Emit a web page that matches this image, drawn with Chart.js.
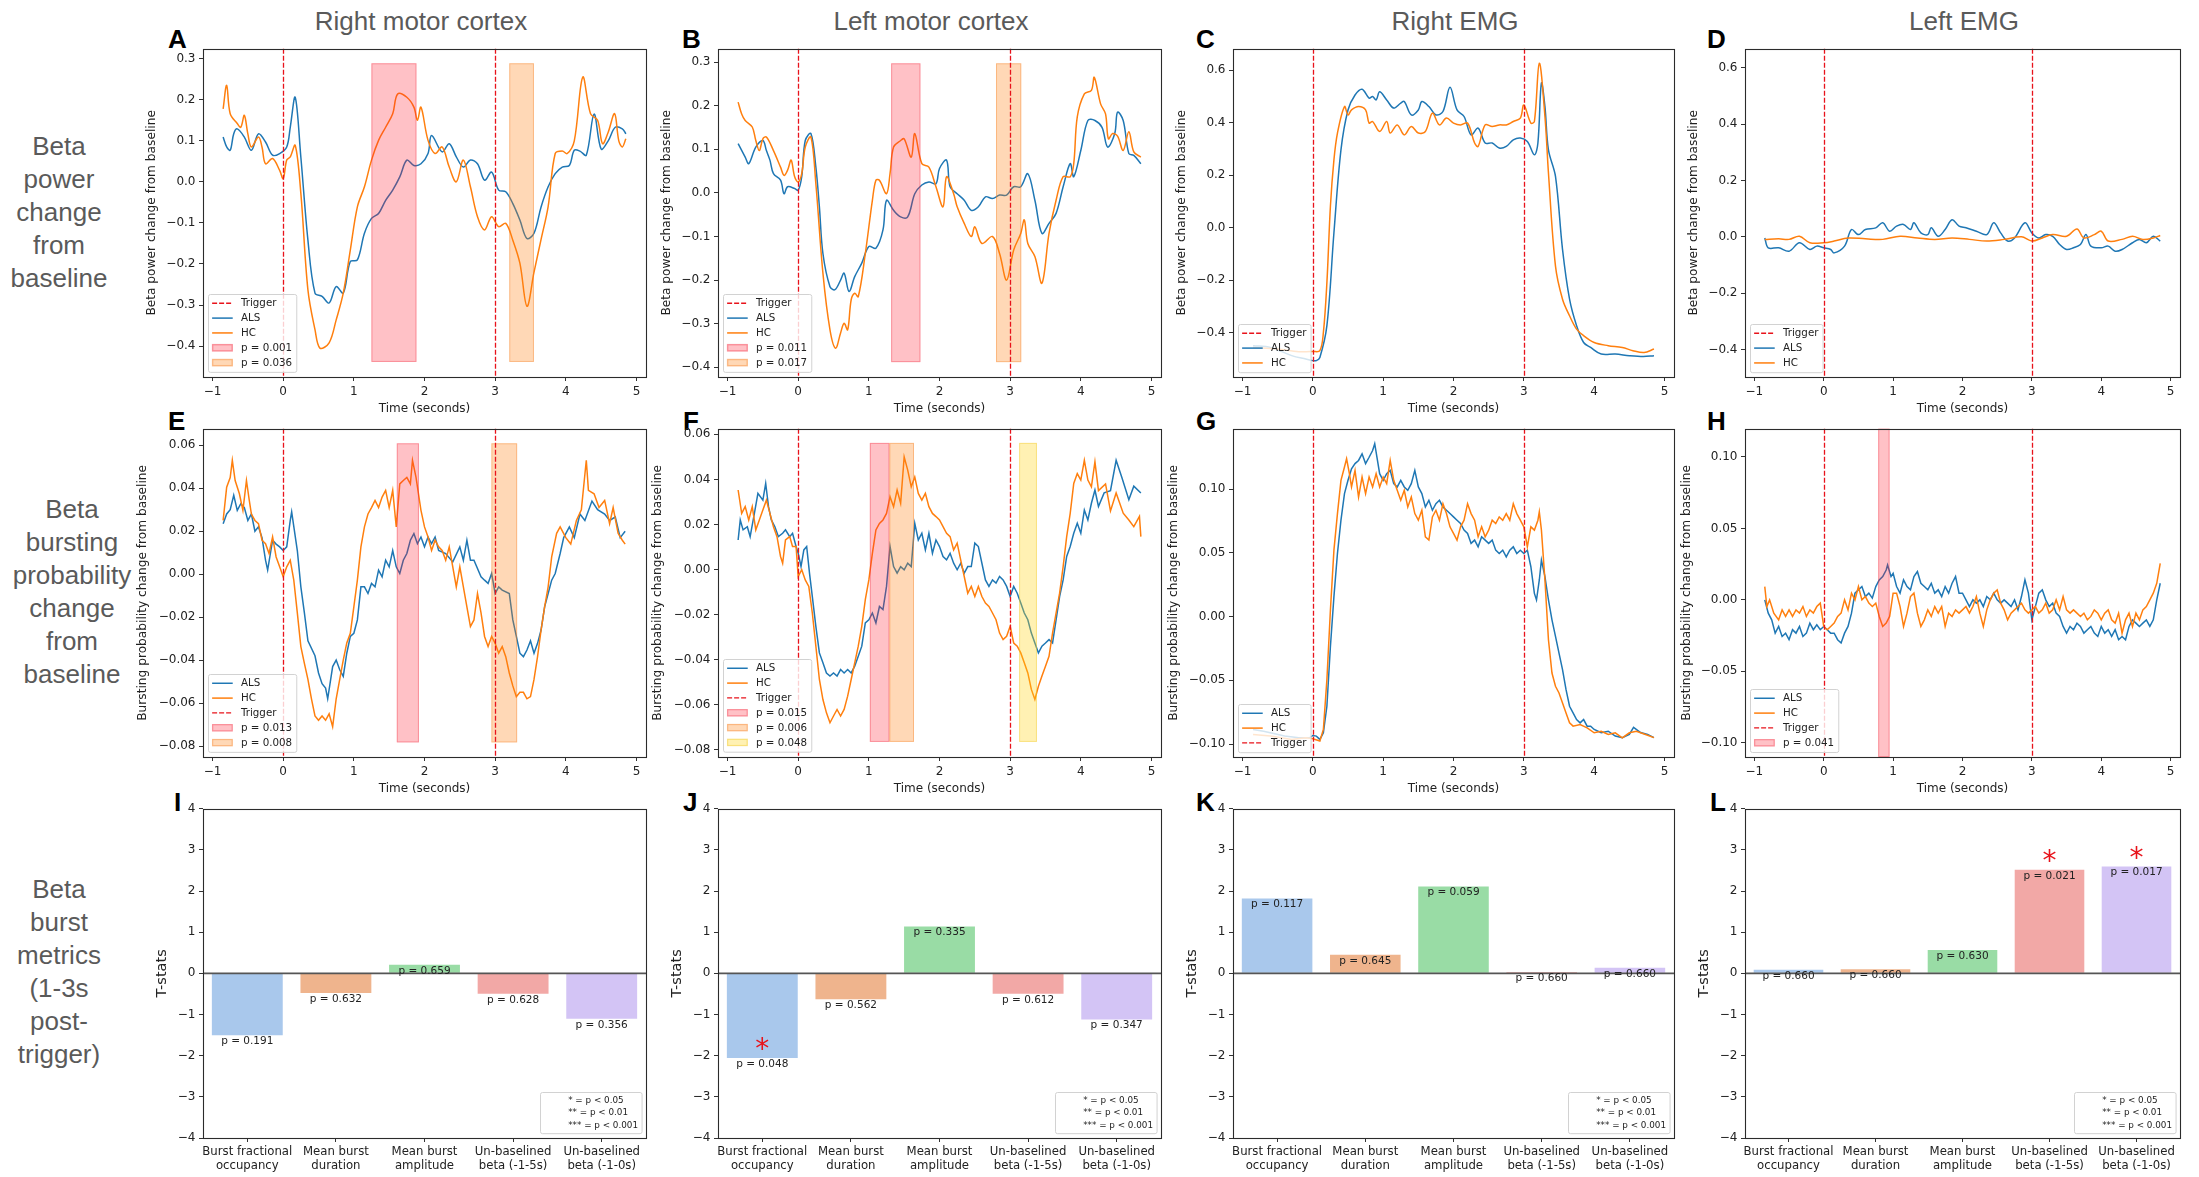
<!DOCTYPE html>
<html>
<head>
<meta charset="utf-8">
<script src="https://cdn.jsdelivr.net/npm/chart.js@4.4.0/dist/chart.umd.min.js"></script>
<style>
  body { margin: 0; width: 2199px; height: 1177px; background: #fff; position: relative; overflow: hidden; font-family: 'Liberation Sans', Arial, sans-serif; }
  .panel { position: absolute; }
  .coltitle { position: absolute; width: 400px; text-align: center; color: #5a5a5a; font-size: 26px; line-height: 33px; }
  .rowtitle { position: absolute; width: 170px; text-align: center; color: #5a5a5a; font-size: 26px; line-height: 33px; }
  .letter { position: absolute; font-weight: bold; font-size: 26px; line-height: 26px; color: #000; }
</style>
</head>
<body>
<div class="coltitle" style="left:221px;top:4.5px">Right motor cortex</div>
<div class="coltitle" style="left:731px;top:4.5px">Left motor cortex</div>
<div class="coltitle" style="left:1255px;top:4.5px">Right EMG</div>
<div class="coltitle" style="left:1764px;top:4.5px">Left EMG</div>

<div class="rowtitle" style="left:-26px;top:129.6px">Beta<br>power<br>change<br>from<br>baseline</div>
<div class="rowtitle" style="left:-13px;top:493px">Beta<br>bursting<br>probability<br>change<br>from<br>baseline</div>
<div class="rowtitle" style="left:-26px;top:872.8px">Beta<br>burst<br>metrics<br>(1-3s<br>post-<br>trigger)</div>

<div class="letter" style="left:168px;top:26.3px">A</div>
<div class="letter" style="left:682px;top:26.3px">B</div>
<div class="letter" style="left:1196px;top:26.3px">C</div>
<div class="letter" style="left:1707px;top:26.3px">D</div>
<div class="letter" style="left:168px;top:408px">E</div>
<div class="letter" style="left:683px;top:408px">F</div>
<div class="letter" style="left:1196px;top:408px">G</div>
<div class="letter" style="left:1707px;top:408px">H</div>
<div class="letter" style="left:174px;top:788.7px">I</div>
<div class="letter" style="left:683px;top:788.7px">J</div>
<div class="letter" style="left:1196px;top:788.7px">K</div>
<div class="letter" style="left:1710px;top:788.7px">L</div>

<script>
// ---------- data ----------
const timeTicks = [-1, 0, 1, 2, 3, 4, 5];
const triggerTimes = [0, 3];
const powerTicksCortex = [-0.4, -0.3, -0.2, -0.1, 0, 0.1, 0.2, 0.3];
const powerTicksEmg = [-0.4, -0.2, 0, 0.2, 0.4, 0.6];
const burstTicksCortex = [-0.08, -0.06, -0.04, -0.02, 0, 0.02, 0.04, 0.06];
const burstTicksEmg = [-0.10, -0.05, 0, 0.05, 0.10];
const tstatTicks = [-4, -3, -2, -1, 0, 1, 2, 3, 4];

// A - right motor cortex, beta power (time, value)
const rightPowerALS = [[-0.85,0.109],[-0.8,0.085],[-0.75,0.077],[-0.7,0.117],[-0.65,0.129],[-0.55,0.109],[-0.45,0.077],[-0.35,0.117],[-0.25,0.097],[-0.15,0.065],[-0.05,0.069],[0.05,0.085],[0.1,0.133],[0.17,0.206],[0.25,0.06],[0.35,-0.142],[0.45,-0.271],[0.55,-0.279],[0.65,-0.295],[0.75,-0.255],[0.85,-0.271],[0.95,-0.194],[1.05,-0.19],[1.15,-0.125],[1.25,-0.089],[1.35,-0.077],[1.45,-0.045],[1.55,-0.02],[1.65,0.012],[1.75,0.053],[1.85,0.04],[1.95,0.044],[2.05,0.069],[2.1,0.113],[2.25,0.073],[2.35,0.093],[2.45,0.061],[2.55,0.036],[2.65,0.053],[2.75,0.044],[2.85,0.004],[2.95,0.024],[3.05,-0.02],[3.15,-0.024],[3.25,-0.053],[3.35,-0.093],[3.45,-0.138],[3.55,-0.125],[3.65,-0.061],[3.75,-0.012],[3.85,0.02],[3.95,0.036],[4.05,0.04],[4.12,0.077],[4.2,0.075],[4.29,0.065],[4.4,0.165],[4.5,0.08],[4.6,0.1],[4.7,0.133],[4.8,0.129],[4.85,0.117]];
const rightPowerHC = [[-0.85,0.178],[-0.8,0.235],[-0.75,0.166],[-0.65,0.142],[-0.6,0.133],[-0.55,0.162],[-0.5,0.117],[-0.45,0.085],[-0.35,0.109],[-0.3,0.085],[-0.25,0.044],[-0.15,0.057],[-0.05,0.028],[0,0.008],[0.05,0.053],[0.1,0.061],[0.17,0.089],[0.25,-0.028],[0.35,-0.263],[0.45,-0.36],[0.52,-0.405],[0.65,-0.392],[0.75,-0.336],[0.85,-0.271],[0.95,-0.166],[1.05,-0.061],[1.15,-0.012],[1.25,0.053],[1.35,0.101],[1.45,0.133],[1.55,0.166],[1.62,0.214],[1.75,0.206],[1.85,0.182],[1.9,0.15],[1.95,0.182],[2.05,0.101],[2.15,0.069],[2.25,0.085],[2.35,0.036],[2.45,0.0],[2.55,0.053],[2.65,-0.012],[2.75,-0.085],[2.85,-0.117],[2.95,-0.085],[3.05,-0.109],[3.15,-0.101],[3.25,-0.142],[3.35,-0.198],[3.45,-0.303],[3.55,-0.22],[3.65,-0.14],[3.75,-0.06],[3.85,0.069],[3.95,0.075],[4.02,0.069],[4.12,0.1],[4.24,0.255],[4.35,0.166],[4.45,0.15],[4.52,0.093],[4.6,0.121],[4.69,0.166],[4.75,0.1],[4.8,0.085],[4.85,0.105]];

// B - left motor cortex, beta power
const leftPowerALS = [[-0.85,0.113],[-0.75,0.082],[-0.7,0.067],[-0.6,0.105],[-0.5,0.12],[-0.45,0.097],[-0.4,0.075],[-0.35,0.044],[-0.25,0.029],[-0.2,-0.002],[-0.15,0.014],[-0.05,0.01],[0,0.006],[0.05,0.037],[0.1,0.12],[0.18,0.136],[0.25,0.059],[0.3,-0.032],[0.35,-0.139],[0.45,-0.215],[0.52,-0.222],[0.6,-0.2],[0.65,-0.184],[0.72,-0.226],[0.8,-0.192],[0.9,-0.161],[1.0,-0.123],[1.1,-0.127],[1.2,-0.085],[1.25,-0.017],[1.35,-0.04],[1.45,-0.055],[1.55,-0.055],[1.65,-0.002],[1.75,0.018],[1.85,0.025],[1.95,0.021],[2.0,0.056],[2.1,0.075],[2.15,0.014],[2.25,-0.002],[2.35,-0.017],[2.45,-0.04],[2.55,-0.032],[2.65,-0.009],[2.75,-0.013],[2.85,-0.005],[2.95,-0.005],[3.05,0.014],[3.15,0.014],[3.25,0.044],[3.35,-0.017],[3.45,-0.093],[3.55,-0.07],[3.65,-0.047],[3.75,0.014],[3.85,0.067],[3.9,0.037],[4.0,0.097],[4.1,0.166],[4.2,0.166],[4.3,0.15],[4.38,0.105],[4.48,0.136],[4.52,0.185],[4.6,0.166],[4.68,0.09],[4.75,0.086],[4.85,0.067]];
const leftPowerHC = [[-0.85,0.208],[-0.8,0.181],[-0.75,0.166],[-0.65,0.151],[-0.6,0.12],[-0.55,0.097],[-0.5,0.124],[-0.45,0.128],[-0.35,0.097],[-0.25,0.059],[-0.2,0.04],[-0.15,0.052],[-0.1,0.075],[-0.05,0.037],[0,0.025],[0.05,0.044],[0.1,0.105],[0.18,0.128],[0.25,0.021],[0.35,-0.184],[0.45,-0.314],[0.53,-0.356],[0.6,-0.321],[0.65,-0.299],[0.7,-0.314],[0.75,-0.245],[0.8,-0.23],[0.85,-0.238],[0.95,-0.139],[1.05,-0.017],[1.1,0.029],[1.15,0.029],[1.25,-0.002],[1.3,0.044],[1.35,0.105],[1.45,0.12],[1.5,0.124],[1.6,0.082],[1.65,0.136],[1.75,0.067],[1.85,0.059],[1.95,0.014],[2.05,-0.032],[2.1,0.037],[2.2,-0.002],[2.25,-0.032],[2.35,-0.07],[2.45,-0.1],[2.5,-0.078],[2.6,-0.116],[2.75,-0.1],[2.85,-0.139],[2.95,-0.2],[3.05,-0.131],[3.15,-0.093],[3.2,-0.062],[3.25,-0.116],[3.35,-0.146],[3.45,-0.207],[3.55,-0.093],[3.65,-0.017],[3.75,0.037],[3.85,0.037],[3.9,0.067],[3.95,0.174],[4.05,0.227],[4.15,0.235],[4.19,0.265],[4.28,0.204],[4.35,0.181],[4.39,0.124],[4.45,0.136],[4.52,0.13],[4.6,0.097],[4.68,0.14],[4.75,0.094],[4.85,0.082]];

// C - right EMG, beta power
const rightEmgPowerALS = [[-0.85,-0.449],[-0.6,-0.456],[-0.3,-0.487],[-0.1,-0.5],[0,-0.506],[0.05,-0.506],[0.1,-0.494],[0.2,-0.373],[0.3,-0.019],[0.4,0.297],[0.5,0.449],[0.6,0.506],[0.7,0.528],[0.8,0.494],[0.85,0.5],[0.9,0.487],[0.95,0.518],[1.05,0.487],[1.15,0.456],[1.25,0.475],[1.3,0.481],[1.4,0.43],[1.5,0.449],[1.55,0.481],[1.65,0.462],[1.75,0.43],[1.85,0.443],[1.95,0.535],[2.05,0.449],[2.15,0.424],[2.25,0.354],[2.35,0.38],[2.45,0.323],[2.55,0.323],[2.65,0.304],[2.75,0.31],[2.85,0.335],[2.95,0.342],[3.05,0.329],[3.15,0.278],[3.2,0.323],[3.25,0.551],[3.3,0.462],[3.35,0.297],[3.45,0.196],[3.55,-0.082],[3.65,-0.272],[3.75,-0.373],[3.85,-0.437],[3.95,-0.456],[4.1,-0.481],[4.3,-0.481],[4.5,-0.487],[4.7,-0.49],[4.85,-0.487]];
const rightEmgPowerHC = [[-0.85,-0.456],[-0.5,-0.462],[-0.2,-0.472],[0,-0.471],[0.1,-0.468],[0.15,-0.399],[0.2,-0.209],[0.25,0.082],[0.3,0.259],[0.35,0.361],[0.45,0.462],[0.5,0.43],[0.55,0.449],[0.65,0.462],[0.75,0.449],[0.8,0.399],[0.85,0.405],[0.95,0.367],[1.05,0.405],[1.1,0.361],[1.2,0.392],[1.3,0.354],[1.4,0.386],[1.5,0.361],[1.6,0.367],[1.7,0.437],[1.8,0.392],[1.9,0.418],[2.0,0.399],[2.1,0.392],[2.2,0.399],[2.3,0.323],[2.35,0.31],[2.45,0.392],[2.55,0.386],[2.65,0.392],[2.75,0.392],[2.85,0.405],[2.95,0.418],[3.0,0.468],[3.1,0.399],[3.15,0.405],[3.22,0.627],[3.3,0.424],[3.35,0.209],[3.45,-0.146],[3.55,-0.272],[3.65,-0.335],[3.75,-0.386],[3.85,-0.411],[4.0,-0.437],[4.2,-0.449],[4.4,-0.456],[4.55,-0.468],[4.71,-0.475],[4.85,-0.462]];

// D - left EMG, beta power
const leftEmgPowerALS = [[-0.85,-0.004],[-0.8,-0.039],[-0.65,-0.039],[-0.5,-0.051],[-0.35,-0.021],[-0.2,-0.045],[-0.1,-0.033],[0,-0.039],[0.1,-0.045],[0.15,-0.057],[0.3,-0.033],[0.4,0.026],[0.5,0.008],[0.6,0.026],[0.75,0.032],[0.85,0.05],[0.95,0.02],[1.05,0.038],[1.15,0.044],[1.25,0.026],[1.3,0.05],[1.4,0.014],[1.5,0.008],[1.55,0.032],[1.65,0.002],[1.75,0.026],[1.85,0.061],[1.95,0.038],[2.05,0.032],[2.2,0.02],[2.35,0.008],[2.45,0.05],[2.55,0.014],[2.65,-0.015],[2.75,-0.004],[2.9,0.05],[3.0,0.014],[3.1,-0.004],[3.2,0.008],[3.3,0.002],[3.4,-0.027],[3.5,-0.045],[3.6,-0.039],[3.7,-0.027],[3.78,0.008],[3.85,-0.033],[4.0,-0.039],[4.1,-0.033],[4.2,-0.051],[4.3,-0.045],[4.45,-0.021],[4.55,-0.009],[4.65,-0.021],[4.75,0.002],[4.85,-0.015]];
const leftEmgPowerHC = [[-0.85,-0.009],[-0.65,-0.007],[-0.5,-0.009],[-0.35,0.002],[-0.2,-0.021],[0,-0.021],[0.15,-0.015],[0.35,-0.004],[0.6,-0.007],[0.85,-0.009],[1.1,0.002],[1.35,-0.004],[1.6,-0.009],[1.85,-0.004],[2.1,-0.009],[2.35,-0.015],[2.6,-0.009],[2.85,0.0],[3.0,-0.015],[3.15,-0.004],[3.3,0.008],[3.5,0.002],[3.65,0.028],[3.75,-0.004],[3.9,0.008],[4.0,0.02],[4.1,-0.015],[4.3,-0.009],[4.45,0.002],[4.6,-0.009],[4.75,-0.004],[4.85,0.005]];

// E - right motor cortex, bursting probability
const rightBurstALS = [[-0.85,0.0235],[-0.8,0.028],[-0.75,0.030],[-0.7,0.0367],[-0.65,0.0297],[-0.6,0.0328],[-0.55,0.031],[-0.5,0.025],[-0.45,0.028],[-0.4,0.020],[-0.35,0.022],[-0.3,0.017],[-0.25,0.0065],[-0.22,0.0019],[-0.15,0.0158],[-0.1,0.014],[-0.05,0.0127],[0,0.011],[0.05,0.0127],[0.1,0.025],[0.12,0.029],[0.2,0.011],[0.25,-0.0059],[0.3,-0.018],[0.35,-0.031],[0.45,-0.038],[0.5,-0.046],[0.55,-0.051],[0.6,-0.053],[0.63,-0.058],[0.7,-0.043],[0.75,-0.040],[0.8,-0.0445],[0.85,-0.0476],[0.9,-0.0368],[0.95,-0.029],[1.0,-0.0275],[1.05,-0.0213],[1.1,-0.0059],[1.15,-0.0059],[1.2,-0.009],[1.25,-0.0043],[1.3,-0.0059],[1.35,0.0019],[1.4,-0.0012],[1.45,0.0065],[1.5,0.0034],[1.55,0.011],[1.6,0.0034],[1.65,0.0003],[1.7,0.0065],[1.75,0.0096],[1.8,0.0158],[1.85,0.0189],[1.9,0.0142],[1.95,0.0173],[2.0,0.0127],[2.05,0.0173],[2.1,0.0142],[2.15,0.0173],[2.2,0.011],[2.3,0.0096],[2.4,0.0057],[2.5,0.0127],[2.55,0.0065],[2.6,0.0158],[2.65,0.0065],[2.7,0.0065],[2.8,-0.0012],[2.85,-0.0028],[2.9,-0.0043],[2.95,0.0003],[3.0,-0.009],[3.05,-0.0059],[3.1,-0.0074],[3.2,-0.009],[3.25,-0.0213],[3.3,-0.029],[3.35,-0.0368],[3.4,-0.0384],[3.45,-0.0353],[3.5,-0.031],[3.55,-0.0368],[3.6,-0.0322],[3.65,-0.026],[3.7,-0.0152],[3.75,-0.009],[3.8,-0.0028],[3.85,0.0003],[3.92,0.0096],[3.97,0.017],[4.05,0.022],[4.12,0.017],[4.2,0.028],[4.27,0.025],[4.37,0.034],[4.45,0.03],[4.55,0.028],[4.62,0.025],[4.7,0.0266],[4.77,0.017],[4.84,0.02]];
const rightBurstHC = [[-0.85,0.025],[-0.8,0.0405],[-0.75,0.045],[-0.72,0.053],[-0.68,0.0436],[-0.62,0.0374],[-0.57,0.0297],[-0.52,0.0436],[-0.48,0.0343],[-0.45,0.028],[-0.4,0.025],[-0.35,0.0235],[-0.3,0.0158],[-0.25,0.0142],[-0.2,0.0096],[-0.15,0.0173],[-0.1,0.008],[-0.05,0.0034],[0,-0.0012],[0.05,0.0034],[0.1,0.0065],[0.15,-0.0028],[0.2,-0.018],[0.25,-0.0337],[0.3,-0.0415],[0.35,-0.049],[0.4,-0.058],[0.45,-0.066],[0.5,-0.068],[0.55,-0.066],[0.6,-0.068],[0.65,-0.065],[0.7,-0.071],[0.75,-0.058],[0.8,-0.049],[0.85,-0.04],[0.9,-0.032],[0.95,-0.0275],[1.0,-0.0152],[1.05,-0.0028],[1.1,0.0127],[1.15,0.022],[1.2,0.028],[1.25,0.031],[1.3,0.0343],[1.35,0.031],[1.4,0.0359],[1.45,0.039],[1.5,0.031],[1.55,0.039],[1.6,0.022],[1.65,0.042],[1.7,0.0436],[1.75,0.045],[1.8,0.042],[1.83,0.053],[1.88,0.045],[1.95,0.0297],[2.0,0.022],[2.05,0.0173],[2.1,0.011],[2.15,0.0158],[2.2,0.0127],[2.25,0.011],[2.3,0.0065],[2.35,0.0127],[2.4,0.0034],[2.45,-0.0059],[2.5,0.0034],[2.55,-0.0059],[2.6,-0.0152],[2.65,-0.0244],[2.7,-0.0213],[2.75,-0.009],[2.8,-0.018],[2.85,-0.029],[2.9,-0.0337],[2.95,-0.029],[3.0,-0.0322],[3.05,-0.0368],[3.1,-0.0337],[3.15,-0.0384],[3.2,-0.046],[3.25,-0.052],[3.3,-0.057],[3.35,-0.055],[3.4,-0.055],[3.45,-0.058],[3.5,-0.057],[3.55,-0.049],[3.6,-0.0384],[3.65,-0.026],[3.7,-0.0152],[3.75,-0.0059],[3.8,0.008],[3.87,0.019],[3.92,0.022],[4.0,0.017],[4.07,0.014],[4.15,0.025],[4.22,0.03],[4.29,0.053],[4.32,0.039],[4.4,0.0374],[4.47,0.031],[4.55,0.0343],[4.62,0.0235],[4.67,0.031],[4.74,0.019],[4.8,0.0158],[4.84,0.014]];

// F - left motor cortex, bursting probability
const leftBurstALS = [[-0.85,0.0131],[-0.82,0.022],[-0.78,0.0176],[-0.72,0.019],[-0.68,0.0146],[-0.62,0.0249],[-0.57,0.0338],[-0.5,0.0308],[-0.46,0.0382],[-0.42,0.0279],[-0.38,0.022],[-0.33,0.019],[-0.28,0.0146],[-0.22,0.0161],[-0.18,0.0176],[-0.12,0.0146],[-0.08,0.0161],[-0.03,0.0102],[0,0.0072],[0.04,0.0013],[0.08,0.0087],[0.12,0.0102],[0.16,-0.0016],[0.2,-0.012],[0.25,-0.0252],[0.3,-0.037],[0.35,-0.0414],[0.4,-0.0459],[0.45,-0.0473],[0.5,-0.0459],[0.55,-0.0473],[0.6,-0.0444],[0.65,-0.0459],[0.7,-0.0444],[0.75,-0.0459],[0.8,-0.0429],[0.85,-0.0385],[0.9,-0.034],[0.95,-0.0237],[1.0,-0.0223],[1.05,-0.0193],[1.1,-0.0237],[1.15,-0.0164],[1.2,-0.0178],[1.25,-0.0075],[1.3,0.0102],[1.35,0.0013],[1.4,-0.0016],[1.45,0.0013],[1.5,-0.0001],[1.55,0.0028],[1.6,0.0013],[1.65,0.0205],[1.7,0.0131],[1.75,0.0161],[1.8,0.0087],[1.85,0.0161],[1.9,0.0072],[1.95,0.0131],[2.0,0.0102],[2.05,0.0058],[2.1,0.0043],[2.15,0.0072],[2.2,0.0028],[2.25,-0.0001],[2.3,0.0028],[2.35,-0.0016],[2.4,0.0013],[2.45,0.0013],[2.5,0.0117],[2.55,0.0102],[2.6,0.0028],[2.65,-0.0046],[2.7,-0.0075],[2.75,-0.0046],[2.8,-0.006],[2.85,-0.0031],[2.9,-0.0046],[2.95,-0.0075],[3.0,-0.012],[3.05,-0.0075],[3.1,-0.0105],[3.15,-0.0149],[3.2,-0.0193],[3.25,-0.0223],[3.3,-0.0282],[3.35,-0.0326],[3.4,-0.037],[3.45,-0.034],[3.5,-0.0326],[3.55,-0.0311],[3.6,-0.0326],[3.65,-0.0223],[3.7,-0.012],[3.75,-0.0046],[3.8,0.0058],[3.85,0.0102],[3.9,0.0161],[3.95,0.0205],[4.0,0.0161],[4.05,0.0264],[4.1,0.022],[4.15,0.0294],[4.2,0.0353],[4.25,0.028],[4.33,0.034],[4.42,0.035],[4.5,0.0485],[4.58,0.041],[4.68,0.031],[4.75,0.037],[4.85,0.034]];
const leftBurstHC = [[-0.85,0.0353],[-0.8,0.0249],[-0.75,0.0279],[-0.7,0.022],[-0.65,0.0279],[-0.6,0.0176],[-0.55,0.022],[-0.5,0.0264],[-0.45,0.0308],[-0.4,0.0249],[-0.35,0.019],[-0.3,0.0146],[-0.25,0.0058],[-0.22,0.0028],[-0.18,0.0131],[-0.12,0.0146],[-0.08,0.0102],[-0.03,0.0102],[0,-0.0031],[0.05,-0.0001],[0.1,-0.0046],[0.15,-0.0075],[0.2,-0.0193],[0.25,-0.034],[0.3,-0.0488],[0.35,-0.0577],[0.4,-0.0636],[0.45,-0.068],[0.5,-0.065],[0.55,-0.0621],[0.6,-0.065],[0.65,-0.0621],[0.7,-0.0562],[0.75,-0.0488],[0.8,-0.0414],[0.85,-0.034],[0.9,-0.0252],[0.95,-0.0134],[1.0,-0.0046],[1.05,0.0072],[1.1,0.0176],[1.15,0.0205],[1.2,0.022],[1.25,0.0249],[1.3,0.0323],[1.35,0.0279],[1.4,0.0353],[1.45,0.0294],[1.5,0.05],[1.55,0.0441],[1.6,0.0367],[1.65,0.0411],[1.7,0.0338],[1.75,0.0308],[1.8,0.0338],[1.85,0.0279],[1.9,0.0249],[1.95,0.0235],[2.0,0.022],[2.05,0.019],[2.1,0.0161],[2.15,0.0146],[2.2,0.0087],[2.25,0.0117],[2.3,0.0043],[2.35,-0.0031],[2.4,-0.0105],[2.45,-0.0075],[2.5,-0.012],[2.55,-0.0075],[2.6,-0.012],[2.65,-0.0149],[2.7,-0.0164],[2.75,-0.0193],[2.8,-0.0223],[2.85,-0.0282],[2.9,-0.0311],[2.95,-0.0296],[3.0,-0.0252],[3.05,-0.0326],[3.1,-0.034],[3.15,-0.037],[3.2,-0.0414],[3.25,-0.0459],[3.3,-0.0532],[3.35,-0.0577],[3.4,-0.0518],[3.45,-0.0473],[3.5,-0.0429],[3.55,-0.0385],[3.6,-0.0282],[3.65,-0.0193],[3.7,-0.0105],[3.75,0.0013],[3.8,0.0146],[3.85,0.0249],[3.9,0.0382],[3.95,0.0426],[4.0,0.0397],[4.05,0.0485],[4.1,0.0397],[4.15,0.0367],[4.2,0.0478],[4.25,0.035],[4.35,0.038],[4.42,0.026],[4.5,0.034],[4.6,0.025],[4.68,0.022],[4.75,0.019],[4.83,0.0236],[4.85,0.0146]];

// G - right EMG, bursting probability
const rightEmgBurstALS = [[-0.85,-0.0886],[-0.7,-0.09],[-0.4,-0.0938],[-0.2,-0.0951],[-0.05,-0.0951],[0,-0.0933],[0.05,-0.0938],[0.1,-0.0964],[0.15,-0.0912],[0.2,-0.0704],[0.25,-0.0235],[0.3,0.0156],[0.35,0.0495],[0.4,0.0756],[0.45,0.0965],[0.5,0.1069],[0.55,0.116],[0.6,0.12],[0.65,0.1225],[0.7,0.1277],[0.75,0.12],[0.8,0.125],[0.85,0.1303],[0.88,0.1356],[0.95,0.1121],[1.0,0.1069],[1.05,0.1121],[1.1,0.1147],[1.15,0.1043],[1.2,0.1017],[1.25,0.1069],[1.3,0.1017],[1.35,0.0991],[1.4,0.1043],[1.45,0.1147],[1.5,0.1017],[1.55,0.0965],[1.6,0.086],[1.65,0.0912],[1.7,0.0834],[1.75,0.0886],[1.8,0.0912],[1.85,0.086],[1.9,0.0834],[1.95,0.0808],[2.0,0.0782],[2.05,0.0756],[2.1,0.073],[2.15,0.0678],[2.2,0.0652],[2.25,0.0574],[2.3,0.06],[2.35,0.0547],[2.4,0.0626],[2.45,0.06],[2.5,0.0574],[2.55,0.06],[2.6,0.0521],[2.65,0.0495],[2.7,0.0521],[2.75,0.0469],[2.8,0.0521],[2.85,0.0547],[2.9,0.0495],[2.95,0.0521],[3.0,0.0495],[3.05,0.0521],[3.1,0.0391],[3.15,0.0182],[3.18,0.013],[3.22,0.0287],[3.25,0.0443],[3.3,0.0313],[3.35,0.013],[3.4,-0.0026],[3.45,-0.0156],[3.5,-0.0287],[3.55,-0.0417],[3.6,-0.0574],[3.65,-0.0704],[3.7,-0.0756],[3.75,-0.0808],[3.8,-0.0834],[3.85,-0.0808],[3.9,-0.086],[3.95,-0.086],[4.0,-0.0886],[4.1,-0.0912],[4.2,-0.09],[4.3,-0.0938],[4.4,-0.0951],[4.5,-0.0925],[4.56,-0.087],[4.66,-0.091],[4.76,-0.0925],[4.85,-0.095]];
const rightEmgBurstHC = [[-0.85,-0.0925],[-0.6,-0.0938],[-0.3,-0.0964],[-0.1,-0.0951],[0,-0.0959],[0.1,-0.0977],[0.15,-0.0886],[0.2,-0.0495],[0.25,0.0052],[0.3,0.0521],[0.35,0.0808],[0.4,0.1069],[0.45,0.1173],[0.48,0.1238],[0.52,0.1121],[0.55,0.1017],[0.6,0.1147],[0.65,0.0938],[0.7,0.1095],[0.75,0.0965],[0.8,0.1095],[0.85,0.1017],[0.9,0.1121],[0.95,0.1017],[1.0,0.1095],[1.05,0.1043],[1.1,0.1225],[1.15,0.1069],[1.2,0.0991],[1.25,0.0912],[1.3,0.0991],[1.35,0.086],[1.4,0.0938],[1.45,0.0808],[1.5,0.0756],[1.55,0.0834],[1.6,0.0626],[1.65,0.06],[1.7,0.0782],[1.75,0.0834],[1.8,0.0756],[1.85,0.0886],[1.9,0.0808],[1.95,0.0704],[2.0,0.0652],[2.05,0.06],[2.1,0.0704],[2.15,0.0756],[2.2,0.0886],[2.25,0.0808],[2.3,0.0756],[2.35,0.0626],[2.4,0.0704],[2.45,0.0626],[2.5,0.0678],[2.55,0.0756],[2.6,0.073],[2.65,0.0782],[2.7,0.0756],[2.75,0.0808],[2.8,0.0756],[2.85,0.0886],[2.9,0.0808],[2.95,0.0756],[3.0,0.0704],[3.05,0.0547],[3.1,0.0704],[3.15,0.0678],[3.2,0.0756],[3.22,0.0821],[3.25,0.0678],[3.3,0.0287],[3.35,-0.0182],[3.4,-0.0443],[3.45,-0.0547],[3.5,-0.06],[3.55,-0.0678],[3.6,-0.0756],[3.65,-0.0834],[3.7,-0.086],[3.8,-0.0847],[3.9,-0.0873],[4.0,-0.0912],[4.1,-0.09],[4.2,-0.0925],[4.3,-0.0912],[4.4,-0.0951],[4.5,-0.0912],[4.6,-0.09],[4.7,-0.092],[4.85,-0.095]];

// H - left EMG, bursting probability
const leftEmgBurstALS = [[-0.85,0.0],[-0.8,-0.0093],[-0.75,-0.014],[-0.7,-0.0233],[-0.65,-0.0186],[-0.6,-0.0256],[-0.55,-0.0233],[-0.5,-0.0279],[-0.45,-0.0209],[-0.4,-0.0233],[-0.35,-0.0186],[-0.3,-0.0256],[-0.25,-0.0233],[-0.2,-0.0163],[-0.15,-0.0209],[-0.1,-0.0174],[-0.05,-0.0209],[0,-0.0186],[0.05,-0.0209],[0.1,-0.0233],[0.15,-0.0233],[0.2,-0.0279],[0.25,-0.0302],[0.3,-0.0233],[0.35,-0.0186],[0.4,-0.0093],[0.45,0.0047],[0.5,0.007],[0.55,0.0093],[0.6,0.0023],[0.65,0.0047],[0.7,0.0012],[0.75,0.0093],[0.8,0.014],[0.85,0.0163],[0.9,0.0209],[0.92,0.0244],[0.97,0.0163],[1.0,0.0186],[1.05,0.0093],[1.1,0.0047],[1.15,0.014],[1.2,0.0093],[1.25,0.007],[1.3,0.0163],[1.35,0.0198],[1.4,0.0116],[1.45,0.0093],[1.5,0.007],[1.55,0.0116],[1.6,0.0047],[1.65,0.007],[1.7,0.0023],[1.75,0.0093],[1.8,0.0047],[1.85,0.0116],[1.9,0.0163],[1.95,0.0047],[2.0,0.0047],[2.05,0.0],[2.1,-0.0047],[2.15,0.0],[2.2,-0.0023],[2.25,0.0],[2.3,-0.0047],[2.35,0.0023],[2.4,0.0],[2.45,0.0047],[2.5,0.0],[2.55,-0.0023],[2.6,0.0],[2.65,-0.0023],[2.7,-0.0047],[2.75,0.0],[2.8,-0.007],[2.85,0.0023],[2.9,0.014],[2.95,0.0047],[3.0,-0.014],[3.05,-0.0047],[3.1,0.0047],[3.15,0.007],[3.2,0.0],[3.25,-0.0047],[3.3,-0.0023],[3.35,-0.0093],[3.4,-0.0116],[3.45,-0.0186],[3.5,-0.0233],[3.55,-0.0186],[3.6,-0.0209],[3.65,-0.0163],[3.7,-0.0186],[3.75,-0.0233],[3.8,-0.0209],[3.85,-0.0186],[3.9,-0.0233],[3.95,-0.0256],[4.0,-0.0186],[4.05,-0.0233],[4.1,-0.0209],[4.15,-0.0256],[4.2,-0.0209],[4.25,-0.0279],[4.3,-0.0256],[4.35,-0.0279],[4.4,-0.0186],[4.45,-0.014],[4.5,-0.0163],[4.55,-0.0186],[4.6,-0.0163],[4.65,-0.014],[4.7,-0.0186],[4.75,-0.014],[4.8,0.0],[4.85,0.0116]];
const leftEmgBurstHC = [[-0.85,0.0093],[-0.82,-0.0047],[-0.78,0.0],[-0.72,-0.0093],[-0.65,-0.014],[-0.6,-0.007],[-0.55,-0.0116],[-0.5,-0.007],[-0.45,-0.0116],[-0.4,-0.007],[-0.35,-0.0093],[-0.3,-0.0047],[-0.25,-0.0116],[-0.2,-0.007],[-0.15,-0.0093],[-0.1,-0.0047],[-0.05,-0.0023],[0,-0.0186],[0.05,-0.0209],[0.1,-0.0186],[0.15,-0.0163],[0.2,-0.0116],[0.25,-0.0093],[0.3,0.0],[0.35,-0.007],[0.4,0.0047],[0.45,0.0],[0.5,0.0093],[0.55,0.0],[0.6,0.0023],[0.65,-0.0023],[0.7,-0.0047],[0.75,-0.0023],[0.8,-0.0116],[0.85,-0.0186],[0.9,-0.0163],[0.95,-0.0116],[1.0,0.0047],[1.05,0.0047],[1.1,-0.0047],[1.15,-0.0186],[1.2,-0.0093],[1.25,0.0023],[1.3,0.0047],[1.35,-0.0093],[1.4,-0.0186],[1.45,-0.014],[1.5,-0.007],[1.55,-0.0116],[1.6,-0.0047],[1.65,-0.0093],[1.7,-0.0047],[1.75,-0.0186],[1.8,-0.0093],[1.85,-0.0116],[1.9,-0.007],[1.95,-0.0093],[2.0,-0.007],[2.05,-0.0047],[2.1,-0.0093],[2.15,-0.0047],[2.2,0.0023],[2.25,-0.0093],[2.3,-0.0186],[2.35,-0.007],[2.4,0.0],[2.45,0.0047],[2.5,0.007],[2.55,-0.0023],[2.6,-0.007],[2.65,-0.014],[2.7,-0.0093],[2.75,-0.007],[2.8,-0.0047],[2.85,-0.0023],[2.9,-0.007],[2.95,-0.0093],[3.0,-0.007],[3.05,-0.0047],[3.1,-0.0093],[3.15,-0.007],[3.2,-0.0023],[3.25,-0.0093],[3.3,-0.007],[3.35,0.0],[3.4,-0.007],[3.45,0.0023],[3.5,-0.007],[3.55,-0.0093],[3.6,-0.007],[3.65,-0.0093],[3.7,-0.0116],[3.75,-0.0093],[3.8,-0.014],[3.85,-0.0116],[3.9,-0.007],[3.95,-0.0093],[4.0,-0.014],[4.05,-0.0093],[4.1,-0.007],[4.15,-0.014],[4.2,-0.0163],[4.25,-0.0093],[4.3,-0.0233],[4.35,-0.014],[4.4,-0.0093],[4.45,-0.0186],[4.5,-0.0093],[4.55,-0.014],[4.6,-0.007],[4.65,-0.0047],[4.7,0.0],[4.75,0.0047],[4.8,0.0116],[4.85,0.0256]];

// significant time windows (start, end) and their p-values
const spansA = [[1.249, 1.886], [3.2, 3.549]];
const spanPA = ['p = 0.001', 'p = 0.036'];
const spanExtentA = [-0.4385, 0.2888];
const spansB = [[1.316, 1.73], [2.8, 3.157]];
const spanPB = ['p = 0.011', 'p = 0.017'];
const spanExtentB = [-0.388, 0.297];
const spansE = [[1.608, 1.921], [2.947, 3.311]];
const spanPE = ['p = 0.013', 'p = 0.008'];
const spanExtentE = [-0.0783, 0.0609];
const spansF = [[1.014, 1.291], [1.291, 1.639], [3.127, 3.379]];
const spanPF = ['p = 0.015', 'p = 0.006', 'p = 0.048'];
const spanExtentF = [-0.0765, 0.0562];
const spansH = [[0.785, 0.949]];
const spanPH = ['p = 0.041'];

// bar panels: T statistics and p-values per metric
const metricLabels = [['Burst fractional', 'occupancy'], ['Mean burst', 'duration'], ['Mean burst', 'amplitude'], ['Un-baselined', 'beta (-1-5s)'], ['Un-baselined', 'beta (-1-0s)']];
const tstatsI = [-1.505, -0.477, 0.21, -0.494, -1.10];
const pvalsI = [0.191, 0.632, 0.659, 0.628, 0.356];
const tstatsJ = [-2.055, -0.631, 1.141, -0.494, -1.12];
const pvalsJ = [0.048, 0.562, 0.335, 0.612, 0.347];
const tstatsK = [1.82, 0.453, 2.11, 0.03, 0.137];
const pvalsK = [0.117, 0.645, 0.059, 0.660, 0.660];
const tstatsL = [0.089, 0.097, 0.566, 2.516, 2.597];
const pvalsL = [0.660, 0.660, 0.630, 0.021, 0.017];
const starKey = ['* = p < 0.05', '** = p < 0.01', '*** = p < 0.001'];

// ---------- styling / layout ----------
const BLUE = '#1f77b4', ORANGE = '#ff7f0e', TRIGGER = '#e8131b';
const spanFill = ['rgba(255,25,45,0.27)', 'rgba(255,127,14,0.30)', 'rgba(255,210,20,0.32)'];
const spanEdge = ['rgba(240,40,60,0.35)', 'rgba(245,130,40,0.38)', 'rgba(240,200,40,0.4)'];
const barFill = ['#a9c8ec', '#efb48d', '#99dca5', '#f2a8a6', '#d3c4f5'];

const colLeft = [202.5, 717.5, 1232.5, 1745.4];
const colRight = [645.0, 1160.4, 1673.6, 2180.4];
const rowTop = [48.3, 428.3, 808.3];
const rowBottom = [377.7, 757.7, 1138.3];
const PAD = 10;
const TICK_FONT = 12;
const LEGEND_FONT = 10.3;

// the category labels in the figure are tall and narrow: use the condensed face when it exists
function fontAvailable(name) {
  const c = document.createElement('canvas').getContext('2d');
  const probe = 'abcdefghijklmnopqrstuvwxyz0123456789';
  c.font = '40px monospace';
  const w1 = c.measureText(probe).width;
  c.font = "40px '" + name + "', monospace";
  const w2 = c.measureText(probe).width;
  return Math.abs(w1 - w2) > 0.5;
}
const HAS_CONDENSED = fontAvailable('DejaVu Sans Condensed');
const catFont = HAS_CONDENSED
  ? { family: "'DejaVu Sans Condensed', 'DejaVu Sans', sans-serif", size: 13, lineHeight: 1.13 }
  : { family: "'DejaVu Sans', sans-serif", size: 11.8, lineHeight: 1.24 };

Chart.defaults.font.family = "'DejaVu Sans', sans-serif";
Chart.defaults.color = '#222';

function fmtTick(dec) {
  return v => (v < -1e-9 ? '\u2212' : '') + Math.abs(v).toFixed(dec);
}
function toXY(arr) {
  return arr.map(d => ({ x: d[0], y: d[1] }));
}

function makeCanvas(col, row, yW, xH) {
  const w = Math.round(colRight[col] - colLeft[col]);
  const h = Math.round(rowBottom[row] - rowTop[row]);
  const div = document.createElement('div');
  div.className = 'panel';
  div.style.left = (colLeft[col] - yW) + 'px';
  div.style.top = (rowTop[row] - PAD) + 'px';
  const cv = document.createElement('canvas');
  cv.width = w + yW + PAD;
  cv.height = h + PAD + xH;
  div.appendChild(cv);
  document.body.appendChild(div);
  return cv;
}

// full box around the plot area (matplotlib spines)
const frame = {
  id: 'frame',
  afterDraw(chart) {
    const { ctx, chartArea: a } = chart;
    ctx.save();
    ctx.strokeStyle = '#2b2b2b';
    ctx.lineWidth = 1.1;
    ctx.strokeRect(Math.round(a.left) + 0.5, Math.round(a.top) + 0.5, Math.round(a.right - a.left), Math.round(a.bottom - a.top));
    ctx.restore();
  }
};

// shaded significance windows
const spanShade = {
  id: 'spanShade',
  afterDatasetsDraw(chart, args, opts) {
    if (!opts.spans) return;
    const { ctx, chartArea: a, scales: { x, y } } = chart;
    ctx.save();
    opts.spans.forEach((s, i) => {
      const x1 = x.getPixelForValue(s[0]), x2 = x.getPixelForValue(s[1]);
      const yTop = opts.extent ? y.getPixelForValue(opts.extent[1]) : a.top;
      const yBot = opts.extent ? y.getPixelForValue(opts.extent[0]) : a.bottom;
      ctx.fillStyle = spanFill[i];
      ctx.fillRect(x1, yTop, x2 - x1, yBot - yTop);
      ctx.strokeStyle = spanEdge[i];
      ctx.lineWidth = 1;
      ctx.strokeRect(x1 + 0.5, yTop + 0.5, x2 - x1 - 1, yBot - yTop - 1);
    });
    ctx.restore();
  }
};

// dashed trigger lines
const triggerLines = {
  id: 'triggerLines',
  afterDatasetsDraw(chart, args, opts) {
    if (!opts.times) return;
    const { ctx, chartArea: a, scales: { x } } = chart;
    ctx.save();
    ctx.strokeStyle = TRIGGER;
    ctx.lineWidth = 1.3;
    ctx.setLineDash([5, 2]);
    opts.times.forEach(t => {
      const px = Math.round(x.getPixelForValue(t)) + 0.5;
      ctx.beginPath();
      ctx.moveTo(px, a.top);
      ctx.lineTo(px, a.bottom);
      ctx.stroke();
    });
    ctx.restore();
  }
};

// matplotlib-like legend box inside the axes
const boxLegend = {
  id: 'boxLegend',
  afterDraw(chart, args, opts) {
    const items = opts.items;
    if (!items || !items.length) return;
    const { ctx, chartArea: a } = chart;
    const fs = opts.fontSize;
    ctx.save();
    ctx.font = fs + "px 'DejaVu Sans'";
    const pad = 0.4 * fs, hl = 2 * fs, gap = 0.8 * fs, rowH = 1.44 * fs, inset = 0.5 * fs;
    const tw = Math.max(...items.map(it => ctx.measureText(it.label).width));
    const w = pad + hl + gap + tw + pad;
    const h = (items.length - 1) * rowH + 2 * (pad + fs / 2);
    const bx = Math.round(opts.corner === 'right' ? a.right - inset - w : a.left + inset);
    const by = Math.round(a.bottom - inset - h);
    ctx.fillStyle = 'rgba(255,255,255,0.8)';
    ctx.strokeStyle = '#d2d2d2';
    ctx.lineWidth = 1;
    ctx.beginPath();
    if (ctx.roundRect) ctx.roundRect(bx + 0.5, by + 0.5, w, h, 2); else ctx.rect(bx + 0.5, by + 0.5, w, h);
    ctx.fill();
    ctx.stroke();
    items.forEach((it, i) => {
      const cy = by + pad + fs / 2 + i * rowH;
      const hx = bx + pad;
      if (it.kind === 'line' || it.kind === 'dash') {
        ctx.strokeStyle = it.color;
        ctx.lineWidth = it.kind === 'dash' ? 1.3 : 1.5;
        ctx.setLineDash(it.kind === 'dash' ? [5, 2] : []);
        ctx.beginPath();
        ctx.moveTo(hx, cy);
        ctx.lineTo(hx + hl, cy);
        ctx.stroke();
        ctx.setLineDash([]);
      } else if (it.kind === 'patch') {
        ctx.fillStyle = it.color;
        ctx.fillRect(hx, cy - 0.35 * fs, hl, 0.7 * fs);
        ctx.strokeStyle = it.edge;
        ctx.strokeRect(hx + 0.5, cy - 0.35 * fs + 0.5, hl - 1, 0.7 * fs - 1);
      }
      ctx.fillStyle = '#222';
      ctx.textAlign = 'left';
      ctx.textBaseline = 'middle';
      ctx.fillText(it.label, hx + hl + gap, cy + 0.5);
    });
    ctx.restore();
  }
};

// zero line, p-value labels and significance stars on the bar panels
const barNotes = {
  id: 'barNotes',
  afterDatasetsDraw(chart, args, opts) {
    const { ctx, chartArea: a, scales: { y } } = chart;
    const y0 = y.getPixelForValue(0);
    const meta = chart.getDatasetMeta(0);
    const vals = chart.data.datasets[0].data;
    ctx.save();
    ctx.strokeStyle = '#555';
    ctx.lineWidth = 1.6;
    ctx.beginPath();
    ctx.moveTo(a.left, y0);
    ctx.lineTo(a.right, y0);
    ctx.stroke();
    meta.data.forEach((bar, i) => {
      const p = opts.p[i];
      ctx.font = "10.5px 'DejaVu Sans'";
      ctx.fillStyle = '#222';
      ctx.textAlign = 'center';
      ctx.textBaseline = 'top';
      ctx.fillText('p = ' + p.toFixed(3), bar.x, bar.y + 1);
      const stars = p < 0.001 ? '***' : p < 0.01 ? '**' : p < 0.05 ? '*' : '';
      if (stars) {
        const sy = y.getPixelForValue(vals[i] + 0.37);
        ctx.font = "28px 'DejaVu Sans'";
        ctx.fillStyle = '#e8131b';
        ctx.textBaseline = 'alphabetic';
        ctx.fillText(stars, bar.x, sy + 15.5);
      }
    });
    ctx.restore();
  }
};

function legendItems(order, spanLabels) {
  const base = {
    trigger: { kind: 'dash', color: TRIGGER, label: 'Trigger' },
    als: { kind: 'line', color: BLUE, label: 'ALS' },
    hc: { kind: 'line', color: ORANGE, label: 'HC' }
  };
  const items = order.map(k => base[k]);
  (spanLabels || []).forEach((l, i) => items.push({ kind: 'patch', color: spanFill[i], edge: spanEdge[i], label: l }));
  return items;
}

function lineChart(p) {
  const xH = 39;
  const cv = makeCanvas(p.col, p.row, p.yW, xH);
  return new Chart(cv, {
    type: 'line',
    data: {
      datasets: [
        { label: 'HC', data: toXY(p.hc), borderColor: ORANGE, borderWidth: p.lw, pointRadius: 0, tension: p.tension, order: 0 },
        { label: 'ALS', data: toXY(p.als), borderColor: BLUE, borderWidth: p.lw, pointRadius: 0, tension: p.tension, order: 1 }
      ]
    },
    options: {
      responsive: false,
      animation: false,
      events: [],
      layout: { padding: { top: PAD, right: PAD, left: 0, bottom: 0 } },
      plugins: {
        legend: { display: false },
        tooltip: { enabled: false },
        spanShade: { spans: p.spans, extent: p.extent },
        triggerLines: { times: triggerTimes },
        boxLegend: { items: legendItems(p.order, p.spanLabels), fontSize: LEGEND_FONT, corner: 'left' }
      },
      scales: {
        x: {
          type: 'linear', min: -1.135, max: 5.135,
          afterBuildTicks: s => { s.ticks = timeTicks.map(v => ({ value: v })); },
          ticks: { autoSkip: false, maxRotation: 0, padding: 3.5, font: { size: TICK_FONT }, callback: fmtTick(0) },
          grid: { drawOnChartArea: false, tickLength: 4, tickColor: '#333' },
          border: { display: false },
          title: { display: true, text: 'Time (seconds)', padding: 0, font: { size: 12 } },
          afterFit: s => { s.height = xH; }
        },
        y: {
          min: p.yMin, max: p.yMax,
          afterBuildTicks: s => { s.ticks = p.yTicks.map(v => ({ value: v })); },
          ticks: { autoSkip: false, padding: 3.5, font: { size: TICK_FONT }, callback: fmtTick(p.dec) },
          grid: { drawOnChartArea: false, tickLength: 4, tickColor: '#333' },
          border: { display: false },
          title: { display: true, text: p.yTitle, padding: 0, font: { size: 12.2 } },
          afterFit: s => { s.width = p.yW; }
        }
      }
    },
    plugins: [spanShade, triggerLines, frame, boxLegend]
  });
}

function barChart(p) {
  const yW = 49, xH = 39;
  const cv = makeCanvas(p.col, 2, yW, xH);
  return new Chart(cv, {
    type: 'bar',
    data: {
      labels: metricLabels,
      datasets: [{ data: p.t, backgroundColor: barFill, borderWidth: 0, barPercentage: 0.8, categoryPercentage: 1 }]
    },
    options: {
      responsive: false,
      animation: false,
      events: [],
      layout: { padding: { top: PAD, right: PAD, left: 0, bottom: 0 } },
      plugins: {
        legend: { display: false },
        tooltip: { enabled: false },
        barNotes: { p: p.p },
        boxLegend: { items: starKey.map(l => ({ kind: 'none', label: l })), fontSize: 8.8, corner: 'right' }
      },
      scales: {
        x: {
          grid: { offset: false, drawOnChartArea: false, tickLength: 4, tickColor: '#333' },
          border: { display: false },
          ticks: { autoSkip: false, maxRotation: 0, padding: 2, font: catFont },
          afterFit: s => { s.height = xH; }
        },
        y: {
          min: -4, max: 4,
          afterBuildTicks: s => { s.ticks = tstatTicks.map(v => ({ value: v })); },
          ticks: { autoSkip: false, padding: 3.5, font: { size: TICK_FONT }, callback: fmtTick(0) },
          grid: { drawOnChartArea: false, tickLength: 4, tickColor: '#333' },
          border: { display: false },
          title: { display: true, text: 'T-stats', padding: 0, font: { size: 14.5 } },
          afterFit: s => { s.width = yW; }
        }
      }
    },
    plugins: [barNotes, frame, boxLegend]
  });
}

const powerTitle = 'Beta power change from baseline';
const burstTitle = 'Bursting probability change from baseline';
const rowOneOrder = ['trigger', 'als', 'hc'];
const rowTwoOrder = ['als', 'hc', 'trigger'];

lineChart({ col: 0, row: 0, als: rightPowerALS, hc: rightPowerHC, yMin: -0.4752, yMax: 0.3243, yTicks: powerTicksCortex, dec: 1, yTitle: powerTitle, yW: 58, tension: 0.35, lw: 1.5, order: rowOneOrder, spans: spansA, spanLabels: spanPA, extent: spanExtentA });
lineChart({ col: 1, row: 0, als: leftPowerALS, hc: leftPowerHC, yMin: -0.4221, yMax: 0.3305, yTicks: powerTicksCortex, dec: 1, yTitle: powerTitle, yW: 58, tension: 0.35, lw: 1.5, order: rowOneOrder, spans: spansB, spanLabels: spanPB, extent: spanExtentB });
lineChart({ col: 2, row: 0, als: rightEmgPowerALS, hc: rightEmgPowerHC, yMin: -0.5684, yMax: 0.6823, yTicks: powerTicksEmg, dec: 1, yTitle: powerTitle, yW: 58, tension: 0.35, lw: 1.5, order: rowOneOrder });
lineChart({ col: 3, row: 0, als: leftEmgPowerALS, hc: leftEmgPowerHC, yMin: -0.498, yMax: 0.6685, yTicks: powerTicksEmg, dec: 1, yTitle: powerTitle, yW: 58, tension: 0.35, lw: 1.5, order: rowOneOrder });

lineChart({ col: 0, row: 1, als: rightBurstALS, hc: rightBurstHC, yMin: -0.0851, yMax: 0.0677, yTicks: burstTicksCortex, dec: 2, yTitle: burstTitle, yW: 67, tension: 0, lw: 1.5, order: rowTwoOrder, spans: spansE, spanLabels: spanPE, extent: spanExtentE });
lineChart({ col: 1, row: 1, als: leftBurstALS, hc: leftBurstHC, yMin: -0.0832, yMax: 0.0625, yTicks: burstTicksCortex, dec: 2, yTitle: burstTitle, yW: 67, tension: 0, lw: 1.5, order: rowTwoOrder, spans: spansF, spanLabels: spanPF, extent: spanExtentF });
lineChart({ col: 2, row: 1, als: rightEmgBurstALS, hc: rightEmgBurstHC, yMin: -0.1102, yMax: 0.1474, yTicks: burstTicksEmg, dec: 2, yTitle: burstTitle, yW: 66, tension: 0, lw: 1.5, order: rowTwoOrder });
lineChart({ col: 3, row: 1, als: leftEmgBurstALS, hc: leftEmgBurstHC, yMin: -0.110, yMax: 0.1198, yTicks: burstTicksEmg, dec: 2, yTitle: burstTitle, yW: 65, tension: 0, lw: 1.5, order: rowTwoOrder, spans: spansH, spanLabels: spanPH, extent: null });

barChart({ col: 0, t: tstatsI, p: pvalsI });
barChart({ col: 1, t: tstatsJ, p: pvalsJ });
barChart({ col: 2, t: tstatsK, p: pvalsK });
barChart({ col: 3, t: tstatsL, p: pvalsL });
</script>
</body>
</html>
